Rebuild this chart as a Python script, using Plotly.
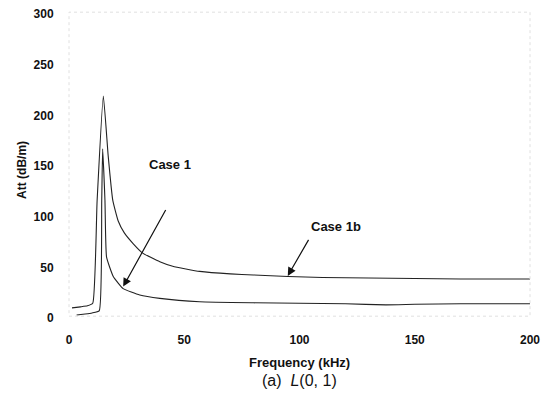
import plotly.graph_objects as go

# Case 1b (upper curve)
case1b_x = [1.3, 5, 8, 10.3, 12.2, 14.9, 17, 19, 21.3, 24, 27.8, 32, 39.4, 45, 56.7, 70, 80, 95, 110, 130, 150, 170, 200]
case1b_y = [10, 11, 12, 14.5, 116, 219, 160, 116, 96, 84, 73.5, 64, 55.5, 51, 46, 43.5, 42.5, 41, 40, 39.5, 39, 38.5, 38.5]

# Case 1 (lower curve)
case1_x = [3.3, 7, 10, 13.1, 14.2, 14.6, 15.6, 16.3, 19.2, 23.5, 30.7, 39.4, 56.7, 80, 100, 120, 137.5, 150, 170, 200]
case1_y = [3, 4, 5, 7, 116, 167, 116, 60, 41, 29, 22.7, 19.4, 16, 15, 14.5, 14, 13, 13.5, 14, 14]

x_ticks = [0, 50, 100, 150, 200]
y_ticks = [0, 50, 100, 150, 200, 250, 300]

FONT = "Arial, Liberation Sans, sans-serif"

fig = go.Figure()
fig.add_trace(go.Scatter(x=case1b_x, y=case1b_y, mode="lines",
                         line=dict(color="#222", width=1.1, shape="spline", smoothing=0.4),
                         showlegend=False, hoverinfo="skip"))
fig.add_trace(go.Scatter(x=case1_x, y=case1_y, mode="lines",
                         line=dict(color="#222", width=1.1, shape="spline", smoothing=0.4),
                         showlegend=False, hoverinfo="skip"))

fig.update_layout(
    width=551, height=400,
    margin=dict(l=69, r=21, t=14, b=82),
    paper_bgcolor="white", plot_bgcolor="white",
    font=dict(family=FONT, size=12, color="#111"),
    xaxis=dict(range=[0, 200], tickvals=x_ticks, showgrid=False, zeroline=False, automargin=False,
               showline=False, ticks="outside", ticklen=11, tickcolor="rgba(0,0,0,0)",
               tickfont=dict(family=FONT, size=12, color="#111", weight="bold")),
    yaxis=dict(range=[0, 300], tickvals=y_ticks, showgrid=False, zeroline=False, automargin=False,
               showline=False, ticks="outside", ticklen=12, tickcolor="rgba(0,0,0,0)",
               tickfont=dict(family=FONT, size=12, color="#111", weight="bold")),
)

# faint dotted frame
fig.add_shape(type="rect", xref="paper", yref="paper", x0=0, x1=1, y0=0.006, y1=1.006,
              line=dict(color="#e0e0e0", width=1, dash="dot"))

# arrows
fig.add_annotation(x=23.5, y=31, ax=42.3, ay=108, xref="x", yref="y", axref="x", ayref="y",
                   showarrow=True, arrowhead=2, arrowsize=1.4, arrowwidth=1.2, arrowcolor="#111", text="")
fig.add_annotation(x=94.9, y=41.5, ax=104.3, ay=78.6, xref="x", yref="y", axref="x", ayref="y",
                   showarrow=True, arrowhead=2, arrowsize=1.4, arrowwidth=1.2, arrowcolor="#111", text="")

fig.add_annotation(x=44, y=151, xref="x", yref="y", text="<b>Case 1</b>", showarrow=False,
                   font=dict(family=FONT, size=13, color="#111"))
fig.add_annotation(x=116, y=90, xref="x", yref="y", text="<b>Case 1b</b>", showarrow=False,
                   font=dict(family=FONT, size=13, color="#111"))

# axis titles
fig.add_annotation(x=-0.102, y=0.487, xref="paper", yref="paper", xanchor="center", yanchor="middle",
                   text="<b>Att (dB/m)</b>", textangle=-90,
                   showarrow=False, font=dict(family=FONT, size=12, color="#111"))
fig.add_annotation(xref="paper", yref="paper", x=0.5, y=-0.148, xanchor="center", yanchor="middle",
                   text="<b>Frequency (kHz)</b>",
                   showarrow=False, font=dict(family=FONT, size=13, color="#111"))
fig.add_annotation(xref="paper", yref="paper", x=0.5, y=-0.207, xanchor="center", yanchor="middle",
                   text="(a)  <i>L</i>(0, 1)",
                   showarrow=False, font=dict(family=FONT, size=16, color="#111"))

fig.write_html("out.html", config={"displayModeBar": False},
               post_script="document.body.style.margin='0';")
